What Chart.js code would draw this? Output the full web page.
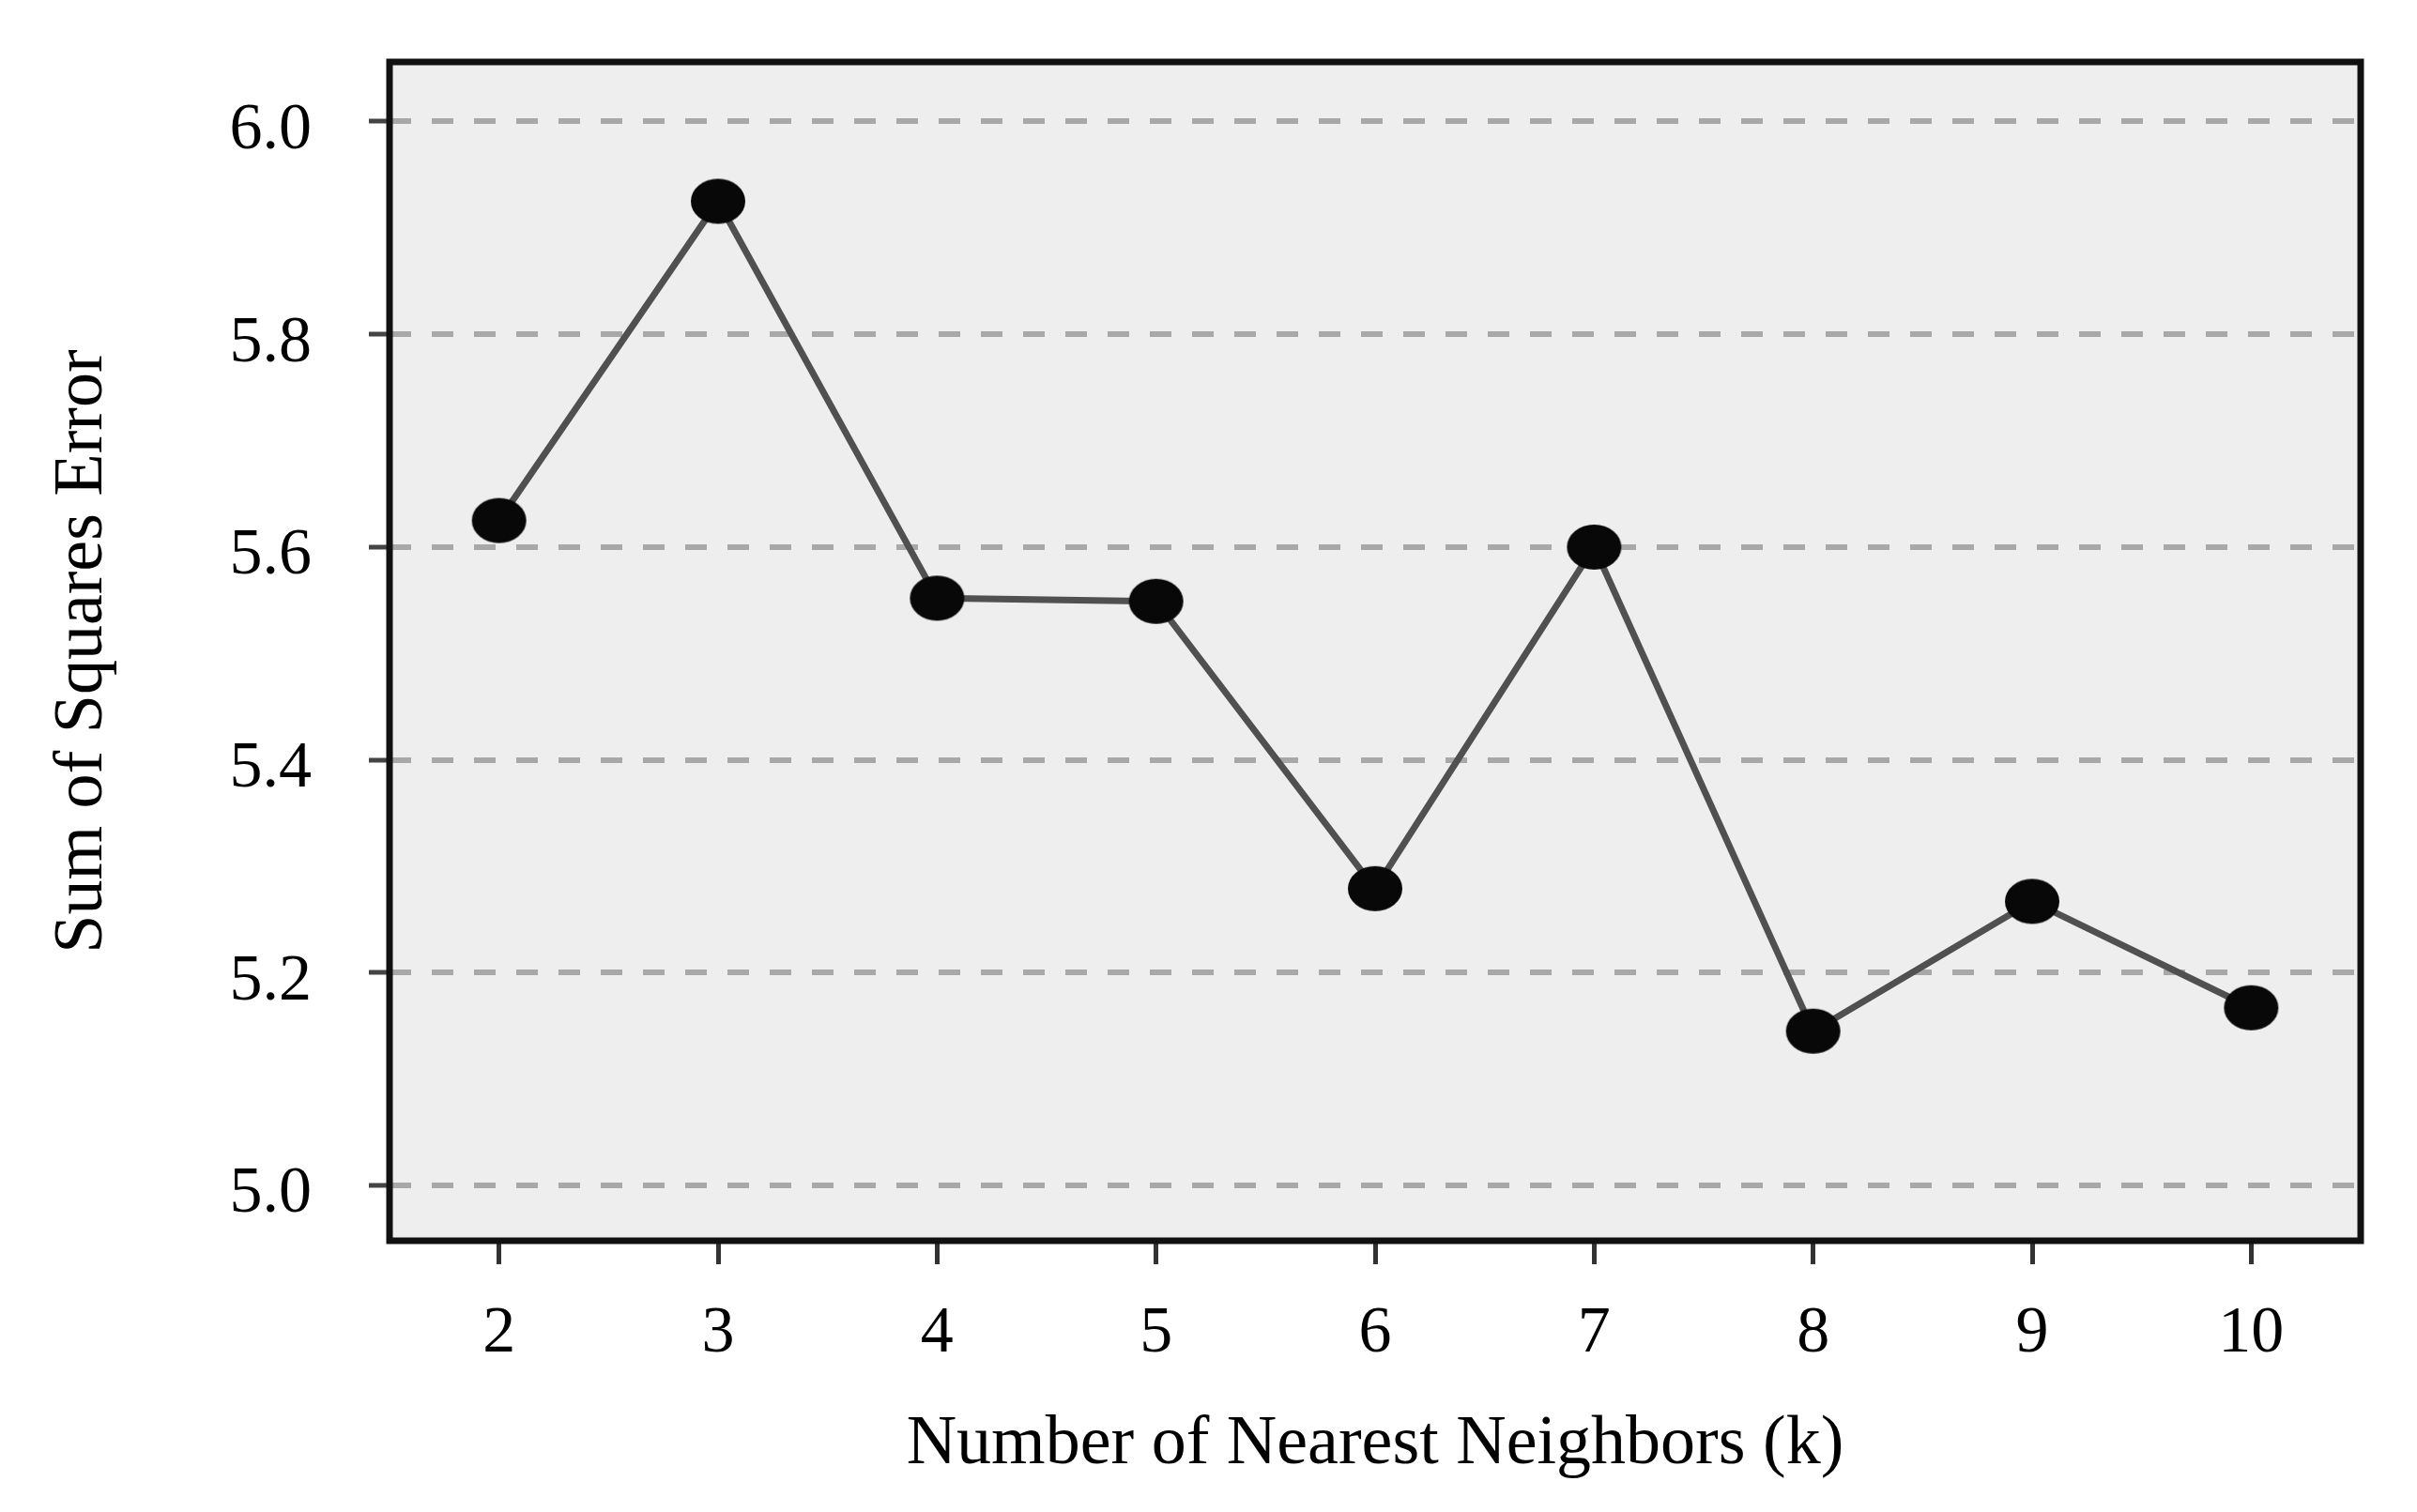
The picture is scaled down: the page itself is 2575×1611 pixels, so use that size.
<!DOCTYPE html>
<html><head><meta charset="utf-8">
<script src="https://cdn.jsdelivr.net/npm/chart.js@4/dist/chart.umd.min.js"></script>
<style>html,body{margin:0;padding:0;background:#fff}#wrap{width:2575px;height:1611px}</style>
</head><body><div id="wrap"><canvas id="c" width="2575" height="1611"></canvas></div>
<script>
const kValues = ['2','3','4','5','6','7','8','9','10'];
const sseValues = [5.625, 5.925, 5.552, 5.549, 5.279, 5.600, 5.145, 5.267, 5.167];
const yTickValues = [5.0, 5.2, 5.4, 5.6, 5.8, 6.0];

const FONT = "'Liberation Serif', 'Times New Roman', serif";

// ellipse marker
const marker = document.createElement('canvas');
marker.width = 60; marker.height = 50;
(function(){
  const m = marker.getContext('2d');
  m.fillStyle = '#080808';
  m.beginPath();
  m.ellipse(30, 25, 29, 24, 0, 0, Math.PI * 2);
  m.fill();
})();

const framePlugin = {
  id: 'frame',
  beforeDraw(chart) {
    const {ctx, chartArea: a} = chart;
    ctx.save();
    ctx.fillStyle = '#eeeeee';
    ctx.fillRect(a.left, a.top, a.right - a.left, a.bottom - a.top);
    ctx.restore();
  },
  afterDraw(chart) {
    const {ctx, chartArea: a} = chart;
    ctx.save();
    ctx.strokeStyle = '#111111';
    ctx.lineWidth = 7;
    ctx.strokeRect(a.left, a.top, a.right - a.left, a.bottom - a.top);
    ctx.restore();
  }
};

new Chart(document.getElementById('c'), {
  type: 'line',
  data: {
    labels: kValues,
    datasets: [{
      data: sseValues,
      borderColor: '#505050',
      borderWidth: 7,
      pointStyle: marker,
      pointRadius: 29,
      pointHoverRadius: 29,
      tension: 0,
      fill: false
    }]
  },
  options: {
    responsive: false,
    animation: false,
    devicePixelRatio: 1,
    layout: { padding: { top: 66, right: 60, left: 0, bottom: 0 } },
    plugins: { legend: { display: false }, tooltip: { enabled: false } },
    scales: {
      x: {
        type: 'category',
        offset: true,
        border: { display: false },
        grid: { drawOnChartArea: false, drawTicks: true, tickLength: 25, tickColor: '#333333', tickWidth: 5 },
        ticks: { color: '#000', font: { family: FONT, size: 70 }, padding: 33, maxRotation: 0, autoSkip: false },
        title: { display: true, text: 'Number of Nearest Neighbors (k)', color: '#000', font: { family: FONT, size: 74 }, padding: { top: 0, bottom: 27 } },
        afterFit(scale) { scale.height = 289; scale.paddingLeft = 0; scale.paddingRight = 0; }
      },
      y: {
        type: 'linear',
        min: 4.948,
        max: 6.056,
        border: { display: false, dash: [23, 22] },
        grid: { color: '#a8a8a8', lineWidth: 6, drawTicks: true, tickLength: 22, tickColor: '#444444', tickWidth: 5, tickBorderDash: [] },
        ticks: {
          color: '#000', font: { family: FONT, size: 70 }, padding: 61, labelOffset: 10,
          callback: (v) => Number(v).toFixed(1)
        },
        afterBuildTicks(scale) { scale.ticks = yTickValues.map(v => ({ value: v })); },
        title: { display: true, text: 'Sum of Squares Error', color: '#000', font: { family: FONT, size: 74 }, padding: { top: 44, bottom: 0 } },
        afterFit(scale) { scale.width = 415; scale.paddingTop = 0; scale.paddingBottom = 0; }
      }
    }
  },
  plugins: [framePlugin]
});
</script></body></html>
